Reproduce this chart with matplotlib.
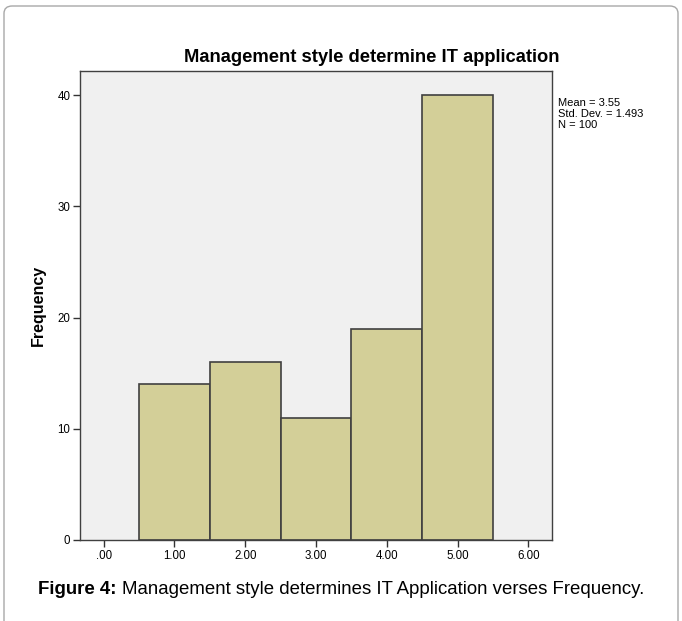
import numpy as np
import matplotlib.pyplot as plt
from matplotlib.patches import FancyBboxPatch

# histogram data
bins = [1, 2, 3, 4, 5]
freq = [14, 16, 11, 19, 40]
xticks = [0, 1, 2, 3, 4, 5, 6]
xlabels = ['.00', '1.00', '2.00', '3.00', '4.00', '5.00', '6.00']
yticks = [0, 10, 20, 30, 40]
stats = ['Mean = 3.55', 'Std. Dev. = 1.493', 'N = 100']

plt.rcParams['font.family'] = ['Liberation Sans', 'DejaVu Sans']

fig = plt.figure(figsize=(6.82, 6.21), dpi=100)

# outer frame with rounded top corners
frame = FancyBboxPatch((4 / 682, -0.05), 674 / 682, (621 - 6) / 621 + 0.05,
                       boxstyle='round,pad=0,rounding_size=0.012',
                       transform=fig.transFigure, facecolor='white',
                       edgecolor='#a8a8a8', linewidth=1.0, zorder=-5)
fig.patches.append(frame)

ax = fig.add_axes([80 / 682, (621 - 540) / 621, (552 - 80) / 682, (540 - 71) / 621])
ax.set_zorder(2)
ax.set_facecolor('#f0f0f0')
ax.bar(bins, freq, width=1.0, color='#d3cf98', edgecolor='#404040', linewidth=1.2)

ax.set_xlim(-1 / 3, 6 + 1 / 3)
ax.set_ylim(0, 42.16)
ax.set_xticks(xticks)
ax.set_xticklabels(xlabels, fontsize=8.3)
ax.set_yticks(yticks)
ax.set_yticklabels([str(v) for v in yticks], fontsize=8.3)
ax.tick_params(direction='out', length=5, width=1, color='#333333', pad=2)
for s in ax.spines.values():
    s.set_color('#404040')
    s.set_linewidth(1.0)

ax.set_ylabel('Frequency', fontsize=11.5, fontweight='bold', labelpad=8)

# title sits over the whole chart block, not the axes centre
fig.text(372 / 682, 1 - 57 / 621, 'Management style determine IT application',
         fontsize=13.2, fontweight='bold', ha='center', va='center')

fig.text(558 / 682, 1 - 98 / 621, '\n'.join(stats), fontsize=8,
         va='top', ha='left', linespacing=1.15)

# caption below the chart
fig.text(38 / 682, 1 - 589 / 621, 'Figure 4:', fontsize=13.4,
         fontweight='bold', va='center', ha='left')
fig.text(122 / 682, 1 - 589 / 621,
         'Management style determines IT Application verses Frequency.',
         fontsize=13.4, va='center', ha='left')

fig.savefig('out.png', dpi=100)
